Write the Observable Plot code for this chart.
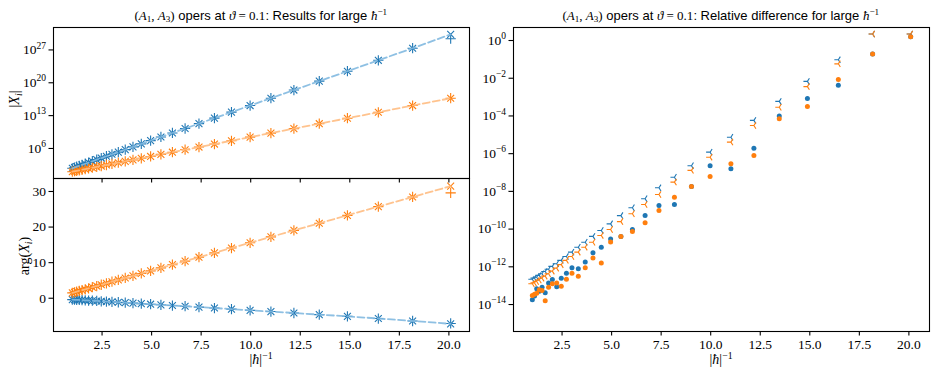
<!DOCTYPE html>
<html><head><meta charset="utf-8">
<script src="https://cdn.jsdelivr.net/npm/d3@7"></script>
<script src="https://cdn.jsdelivr.net/npm/@observablehq/plot@0.6"></script>
<style>
body{margin:0;background:#fff;}
#fig{position:relative;width:938px;height:376px;overflow:hidden;font-family:"Liberation Serif",serif;color:#000;}
#fig svg{position:absolute;}
#fig svg text{font-family:"Liberation Serif",serif !important;font-size:13.5px !important;fill:#000;}
#fig svg text tspan.sup{font-size:9.5px !important;}
.lbl{position:absolute;white-space:nowrap;line-height:1;}
.title{font-family:"Liberation Sans",Arial,sans-serif;font-size:13px;}
.mi{font-family:"Liberation Serif",serif;font-style:italic;}
.mr{font-family:"Liberation Serif",serif;}
.ax{font-size:14px;font-family:"Liberation Serif",serif;}
sub{font-size:70%;line-height:0;vertical-align:-0.25em;}
sup{font-size:70%;line-height:0;vertical-align:0.55em;}
</style></head><body><div id="fig"></div><script>
// ---- data ----
const hbarInv = [1.00,1.11,1.22,1.35,1.49,1.65,1.82,2.01,2.23,2.46,2.72,3.00,3.32,3.67,4.06,4.48,4.95,5.47,6.05,6.69,7.39,8.17,9.03,9.97,11.02,12.18,13.46,14.88,16.44,18.17,20.09];
// |X_i| (two methods: x and +), series 1 (blue) and 2 (orange)
const absBlueX = [6.0e1,8.7e1,1.3e2,2.0e2,3.2e2,5.6e2,1.0e3,1.9e3,4.1e3,9.1e3,2.2e4,5.8e4,1.7e5,5.8e5,2.2e6,9.3e6,4.7e7,2.8e8,2.0e9,1.8e10,2.0e11,2.9e12,5.5e13,1.4e15,5.1e16,2.8e18,2.2e20,2.9e22,6.2e24,2.3e27,2.1e30];
const absBluePlus = [6.0e1,8.7e1,1.3e2,2.0e2,3.2e2,5.6e2,1.0e3,1.9e3,4.1e3,9.1e3,2.2e4,5.8e4,1.7e5,5.8e5,2.2e6,9.3e6,4.7e7,2.8e8,2.0e9,1.8e10,2.0e11,2.9e12,5.5e13,1.4e15,5.1e16,2.8e18,2.2e20,2.9e22,6.2e24,2.3e27,2.5e29];
const absOrangeX = [1.1e1,1.4e1,1.7e1,2.2e1,2.9e1,3.9e1,5.4e1,7.8e1,1.2e2,1.8e2,3.0e2,5.0e2,9.1e2,1.8e3,3.7e3,8.1e3,2.0e4,5.4e4,1.6e5,5.4e5,2.0e6,8.7e6,4.4e7,2.6e8,1.9e9,1.7e10,1.9e11,2.8e12,5.2e13,1.4e15,5.1e16];
const absOrangePlus = [1.1e1,1.4e1,1.7e1,2.2e1,2.9e1,3.9e1,5.4e1,7.8e1,1.2e2,1.8e2,3.0e2,5.0e2,9.1e2,1.8e3,3.7e3,8.1e3,2.0e4,5.4e4,1.6e5,5.4e5,2.0e6,8.7e6,4.4e7,2.6e8,1.9e9,1.7e10,1.9e11,2.8e12,5.2e13,1.4e15,5.1e16];
// arg(X_i)
const argBlueX = [-0.40,-0.42,-0.45,-0.49,-0.53,-0.58,-0.64,-0.70,-0.77,-0.85,-0.93,-1.02,-1.13,-1.25,-1.38,-1.52,-1.68,-1.85,-2.05,-2.25,-2.50,-2.75,-3.05,-3.40,-3.75,-4.15,-4.60,-5.10,-5.70,-6.40,-7.20];
const argBluePlus = [-0.40,-0.42,-0.45,-0.49,-0.53,-0.58,-0.64,-0.70,-0.77,-0.85,-0.93,-1.02,-1.13,-1.25,-1.38,-1.52,-1.68,-1.85,-2.05,-2.25,-2.50,-2.75,-3.05,-3.40,-3.75,-4.15,-4.60,-5.10,-5.70,-6.40,-7.10];
const argOrangeX = [1.50,1.67,1.85,2.05,2.27,2.52,2.79,3.09,3.43,3.79,4.20,4.64,5.14,5.69,6.30,6.96,7.70,8.52,9.43,10.43,11.53,12.76,14.11,15.59,17.24,19.06,21.07,23.30,25.75,28.46,31.50];
const argOrangePlus = [1.50,1.67,1.85,2.05,2.27,2.52,2.79,3.09,3.43,3.79,4.20,4.64,5.14,5.69,6.30,6.96,7.70,8.52,9.43,10.43,11.53,12.76,14.11,15.59,17.24,19.06,21.07,23.30,25.75,28.46,29.60];
// relative differences
const relBlueTri = [2.2e-13,2.5e-13,2.8e-13,3.5e-13,4.3e-13,5.6e-13,7.4e-13,1.05e-12,1.45e-12,2.2e-12,3.5e-12,6.0e-12,1.1e-11,2.0e-11,4.1e-11,8.5e-11,1.9e-10,5.2e-10,1.35e-9,4.1e-9,1.55e-8,5.6e-8,2.3e-7,1.2e-6,7.4e-6,5.8e-5,5.9e-4,6.8e-3,9.5e-2,2.2,2.2];
const relOrangeTri = [1.26e-13,1.4e-13,1.66e-13,2.0e-13,2.5e-13,3.2e-13,4.3e-13,5.9e-13,8.5e-13,1.3e-12,2.2e-12,3.5e-12,6.0e-12,1.1e-11,2.0e-11,4.6e-11,9.5e-11,2.5e-10,6.5e-10,2.0e-9,6.8e-9,3.1e-8,1.3e-7,6.5e-7,4.1e-6,3.1e-5,2.9e-4,3.6e-3,5.8e-2,2.2,2.2];
const relBlueDot = [1.8e-14,2.8e-14,6.8e-14,5.0e-14,8.3e-14,4.2e-14,1.4e-13,2.1e-13,8.9e-14,2.5e-13,4.6e-13,8.9e-13,7.9e-13,1.8e-12,5.5e-12,1.1e-11,3.0e-11,4.1e-11,9.5e-11,5.2e-10,1.8e-9,2.0e-9,1.8e-8,2.3e-7,1.6e-7,1.95e-6,9.8e-5,8.3e-4,4.3e-3,0.195,1.6];
const relOrangeDot = [3.0e-14,3.5e-14,4.0e-14,6.0e-14,5.5e-14,1.6e-14,8.3e-14,1.26e-13,1.4e-13,9.3e-14,2.2e-13,4.6e-13,3.2e-13,8.9e-13,2.9e-12,1.6e-12,2.1e-11,4.1e-11,7.4e-11,2.2e-10,9.8e-10,4.9e-9,1.8e-8,6.2e-8,2.9e-7,7.9e-7,7.2e-5,3.2e-4,8.5e-3,0.195,1.6];
const xTicks = [2.5,5.0,7.5,10.0,12.5,15.0,17.5,20.0];
const absTicks = [1e6,1e13,1e20,1e27];
const argTicks = [0,10,20,30];
const relTicks = [1e0,1e-2,1e-4,1e-6,1e-8,1e-10,1e-12,1e-14];

// ---- styling ----
const C0 = "#1f77b4", C1 = "#ff7f0e";
const L0 = "#82b9e0", L1 = "#ffbd82";
const xDomain = [0.05, 21.04];
const baseStyle = {background:"transparent", overflow:"visible"};
const rows = (ys) => hbarInv.map((x,i)=>({x, y: ys[i]}));
const powFmt = d => "10^" + String(Math.round(Math.log10(d))).replace("-", "\u2212");
const tri = (kind) => ({draw(ctx, size){
  const L = Math.sqrt(size/Math.PI);
  const arms = {
    down:[[0,L],[0.8*L,-0.5*L],[-0.8*L,-0.5*L]],
    up:[[0,-L],[0.8*L,0.5*L],[-0.8*L,0.5*L]],
    left:[[-L,0],[0.5*L,0.8*L],[0.5*L,-0.8*L]],
    right:[[L,0],[-0.5*L,0.8*L],[-0.5*L,-0.8*L]]}[kind];
  for (const [a,b] of arms){ ctx.moveTo(0,0); ctx.lineTo(a,b); }
}});
function supify(svg){
  d3.select(svg).selectAll("text").each(function(){
    const t = this.textContent; const i = t.indexOf("^"); if (i < 0) return;
    const sel = d3.select(this); sel.text(null);
    sel.append("tspan").text(t.slice(0,i));
    sel.append("tspan").attr("class","sup").attr("dy","-0.6em").text(t.slice(i+1));
  });
}
const fig = document.getElementById("fig");
function place(svg, left, top){ svg.style.left = left+"px"; svg.style.top = top+"px"; supify(svg); fig.appendChild(svg); }

const MR = 3.4;
const markStar = (ys1, ys2, c) => [
  Plot.dot(rows(ys1), {x:"x", y:"y", symbol:"times", r:MR*0.95, stroke:c, strokeWidth:1.1, fill:"none"}),
  Plot.dot(rows(ys2), {x:"x", y:"y", symbol:"plus", r:MR, stroke:c, strokeWidth:1.1, fill:"none"})
];
const dash = (ys, c) => Plot.line(rows(ys), {x:"x", y:"y", stroke:c, strokeWidth:1.8, strokeDasharray:"7,3.2", strokeOpacity:0.9});
const axOpts = {tickSize:4.5, tickPadding:3, label:null, strokeWidth:1.1};

// top-left: |X_i|
const tl = Plot.plot({
  width:470, height:183, marginLeft:53, marginRight:1, marginTop:27, marginBottom:5,
  style: baseStyle,
  x:{domain:xDomain},
  y:{type:"log", domain:[10**-0.40, 10**31.78]},
  marks:[
    Plot.axisY({ticks:absTicks, tickFormat:powFmt, ...axOpts}),
    Plot.axisX({ticks:xTicks, tickFormat:()=>"", ...axOpts}),
    ...markStar(absBlueX, absBluePlus, C0),
    ...markStar(absOrangeX, absOrangePlus, C1),
    dash(absBlueX, L0), dash(absOrangeX, L1),
    Plot.frame({stroke:"#000", strokeWidth:1.1})
  ]
});
// bottom-left: arg(X_i)
const bl = Plot.plot({
  width:470, height:198, marginLeft:53, marginRight:1, marginTop:0, marginBottom:45,
  style: baseStyle,
  x:{domain:xDomain},
  y:{domain:[-9.35, 33.65]},
  marks:[
    Plot.axisY({ticks:argTicks, ...axOpts}),
    Plot.axisX({ticks:xTicks, tickFormat:d=>d.toFixed(1), ...axOpts}),
    ...markStar(argBlueX, argBluePlus, C0),
    ...markStar(argOrangeX, argOrangePlus, C1),
    dash(argBlueX, L0), dash(argOrangeX, L1),
    Plot.frame({stroke:"#000", strokeWidth:1.1})
  ]
});
// right: relative difference
const rp = Plot.plot({
  width:468, height:376, marginLeft:43, marginRight:9, marginTop:27, marginBottom:45,
  style: baseStyle,
  x:{domain:xDomain},
  y:{type:"log", domain:[10**-15.43, 10**0.69]},
  marks:[
    Plot.axisY({ticks:relTicks, tickFormat:powFmt, ...axOpts}),
    Plot.axisX({ticks:xTicks, tickFormat:d=>d.toFixed(1), ...axOpts}),
    Plot.dot(rows(relBlueTri), {x:"x", y:"y", symbol:tri("left"), r:4, stroke:C0, strokeWidth:1.1, fill:"none"}),
    Plot.dot(rows(relOrangeTri), {x:"x", y:"y", symbol:tri("left"), r:4, stroke:C1, strokeWidth:1.1, fill:"none"}),
    Plot.dot(rows(relBlueDot), {x:"x", y:"y", r:2.5, fill:C0, stroke:"none"}),
    Plot.dot(rows(relOrangeDot), {x:"x", y:"y", r:2.5, fill:C1, stroke:"none"}),
    Plot.frame({stroke:"#000", strokeWidth:1.1})
  ]
});
place(bl, 0, 178);
place(tl, 0, 0);
place(rp, 470, 0);

function label(html, cls, cx, cy, rot){
  const d = document.createElement("div");
  d.className = "lbl " + cls; d.innerHTML = html;
  fig.appendChild(d);
  const w = d.offsetWidth, h = d.offsetHeight;
  d.style.left = (cx - w/2) + "px"; d.style.top = (cy - h/2) + "px";
  if (rot) d.style.transform = "rotate(-90deg)";
}
const hbarLbl = '|<span class="mi">ħ</span>|<sup>\u22121</sup>';
const t1 = '<span class="mr">(</span><span class="mi">A</span><sub class="mr">1</sub><span class="mr">, </span><span class="mi">A</span><sub class="mr">3</sub><span class="mr">)</span> opers at <span class="mi">ϑ</span><span class="mr"> = 0.1</span>: ';
label(t1 + 'Results for large <span class="mi">ħ</span><sup class="mr">\u22121</sup>', "title", 261, 15);
label(t1 + 'Relative difference for large <span class="mi">ħ</span><sup class="mr">\u22121</sup>', "title", 721, 15);
label(hbarLbl, "ax", 261, 360);
label(hbarLbl, "ax", 721, 360);
label('|<span class="mi">X</span><sub class="mi">i</sub>|', "ax", 15, 99, true);
label('arg(<span class="mi">X</span><sub class="mi">i</sub>)', "ax", 25, 256, true);
</script></body></html>
